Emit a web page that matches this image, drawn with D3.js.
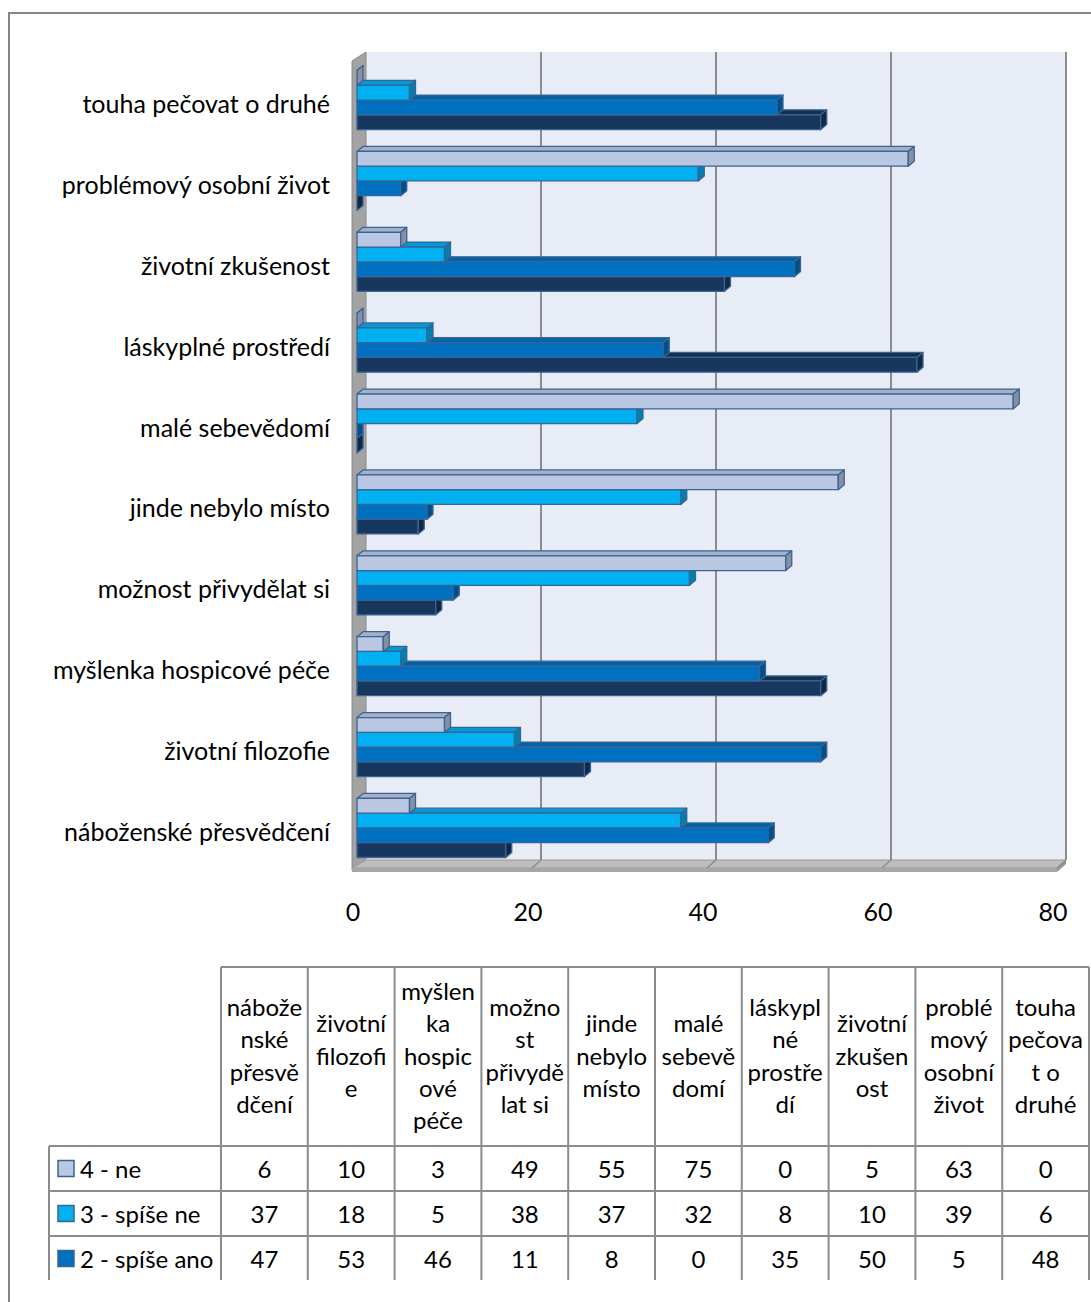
<!DOCTYPE html>
<html>
<head>
<meta charset="utf-8">
<script src="https://cdn.jsdelivr.net/npm/d3@7"></script>
<style>
  html, body { margin: 0; padding: 0; background: #ffffff; }
  svg { display: block; font-family: Lato, "Open Sans", sans-serif; }
</style>
</head>
<body>
<svg id="chart" width="1091" height="1302"></svg>
<script>
// Categories in table order (first = bottom of the bar chart)
const categories = [
  "náboženské přesvědčení",
  "životní filozofie",
  "myšlenka hospicové péče",
  "možnost přivydělat si",
  "jinde nebylo místo",
  "malé sebevědomí",
  "láskyplné prostředí",
  "životní zkušenost",
  "problémový osobní život",
  "touha pečovat o druhé"
];

// Wrapped column headings of the data table
const headerLines = [
  ["nábože", "nské", "přesvě", "dčení"],
  ["životní", "filozofi", "e"],
  ["myšlen", "ka", "hospic", "ové", "péče"],
  ["možno", "st", "přivydě", "lat si"],
  ["jinde", "nebylo", "místo"],
  ["malé", "sebevě", "domí"],
  ["láskypl", "né", "prostře", "dí"],
  ["životní", "zkušen", "ost"],
  ["problé", "mový", "osobní", "život"],
  ["touha", "pečova", "t o", "druhé"]
];

const seriesNames = ["4 - ne", "3 - spíše ne", "2 - spíše ano", "1 - ano"];
const valuesNe       = [6, 10, 3, 49, 55, 75, 0, 5, 63, 0];
const valuesSpiseNe  = [37, 18, 5, 38, 37, 32, 8, 10, 39, 6];
const valuesSpiseAno = [47, 53, 46, 11, 8, 0, 35, 50, 5, 48];
const valuesAno      = [17, 26, 53, 9, 7, 0, 64, 42, 0, 53];
const xTicks = [0, 20, 40, 60, 80];

// Rows shown in the data table
const tableRows = 3;

const seriesValues = [valuesNe, valuesSpiseNe, valuesSpiseAno, valuesAno];
const seriesColors = ["#B9C7E2", "#00B0F0", "#0070C0", "#17375E"];
const outline = "#3B6494";
const gridColor = "#8C8C8C";

const svg = d3.select("#chart");

// Outer frame (left and top edges)
svg.append("path")
  .attr("d", "M9,1302 V13 H1091")
  .attr("fill", "none")
  .attr("stroke", "#868686")
  .attr("stroke-width", 2);

// ---------- 3D bar chart ----------
const plotTop = 60, plotBottom = 868;
const WX = 9, WY = -8;     // wall depth offset
const DX = 6, DY = -5;     // bar depth offset

const x = d3.scaleLinear().domain([0, 80]).range([357, 1057]);
const y = d3.scaleBand()
  .domain(categories.slice().reverse())
  .range([plotTop, plotBottom])
  .paddingInner(0.27)
  .paddingOuter(0.13);
const ys = d3.scaleBand().domain(seriesNames).range([0, y.bandwidth()]);

const plot = svg.append("g");

// back wall
plot.append("rect")
  .attr("x", x(0) + WX).attr("y", plotTop + WY)
  .attr("width", x(80) - x(0)).attr("height", plotBottom - plotTop)
  .attr("fill", "#E8ECF6");

// side wall
plot.append("polygon")
  .attr("points", [[352, plotTop + 1], [x(0) + WX, plotTop + WY], [x(0) + WX, plotBottom + WY], [352, plotBottom + 2]].join(" "))
  .attr("fill", "#A3A3A3").attr("stroke", "#8A8A8A").attr("stroke-width", 1);

// floor
plot.append("polygon")
  .attr("points", [[352, plotBottom], [x(0) + WX, plotBottom + WY], [x(80) + WX, plotBottom + WY], [x(80), plotBottom]].join(" "))
  .attr("fill", "#BDBDBD").attr("stroke", "#9A9A9A").attr("stroke-width", 1);
plot.append("rect")
  .attr("x", 352).attr("y", plotBottom)
  .attr("width", x(80) - 352).attr("height", 4)
  .attr("fill", "#A6A6A6");
plot.append("polygon")
  .attr("points", [[x(80), plotBottom], [x(80) + WX, plotBottom + WY], [x(80) + WX, plotBottom + WY + 4], [x(80), plotBottom + 4]].join(" "))
  .attr("fill", "#969696");

// gridlines on back wall and floor
const gridVals = xTicks.filter(v => v > 0);
plot.selectAll("line.grid").data(gridVals).join("line")
  .attr("class", "grid")
  .attr("x1", d => x(d) + WX).attr("x2", d => x(d) + WX)
  .attr("y1", plotTop + WY).attr("y2", plotBottom + WY)
  .attr("stroke", gridColor).attr("stroke-width", 2);
plot.selectAll("line.floorgrid").data(gridVals).join("line")
  .attr("class", "floorgrid")
  .attr("x1", d => x(d) + WX).attr("x2", d => x(d))
  .attr("y1", plotBottom + WY).attr("y2", plotBottom)
  .attr("stroke", gridColor).attr("stroke-width", 1.5);

// bars: each drawn as front, top and end faces
const bars = plot.append("g");
categories.forEach((cat, ci) => {
  for (let si = seriesNames.length - 1; si >= 0; si--) {
    const v = seriesValues[si][ci];
    const y0 = y(cat) + ys(seriesNames[si]);
    const h = ys.bandwidth();
    const x0 = x(0), x1 = x(v);
    const base = d3.color(seriesColors[si]);
    const g = bars.append("g")
      .attr("stroke", outline).attr("stroke-width", 1.3).attr("stroke-linejoin", "round");
    g.append("polygon")
      .attr("points", [[x0, y0], [x0 + DX, y0 + DY], [x1 + DX, y0 + DY], [x1, y0]].join(" "))
      .attr("fill", base.darker(0.35));
    g.append("rect")
      .attr("x", x0).attr("y", y0)
      .attr("width", x1 - x0).attr("height", h)
      .attr("fill", base);
    g.append("polygon")
      .attr("points", [[x1, y0], [x1 + DX, y0 + DY], [x1 + DX, y0 + h + DY], [x1, y0 + h]].join(" "))
      .attr("fill", base.darker(0.9));
  }
});

// category labels
svg.append("g").selectAll("text").data(categories).join("text")
  .attr("x", 330)
  .attr("y", d => y(d) + y.bandwidth() / 2 + 13)
  .attr("text-anchor", "end")
  .attr("font-size", 25)
  .attr("fill", "#000")
  .text(d => d);

// value axis labels
svg.append("g").selectAll("text").data(xTicks).join("text")
  .attr("x", d => x(d) - 4)
  .attr("y", 921)
  .attr("text-anchor", "middle")
  .attr("font-size", 25)
  .attr("fill", "#000")
  .text(d => d);

// ---------- data table ----------
const tLeft = 49, colLeft = 221, tRight = 1089;
const headTop = 967, headBottom = 1146, rowH = 45, tBottom = 1280;
const tableFont = 24;
const col = d3.scaleBand().domain(categories).range([colLeft, tRight]);
const table = svg.append("g");
const lineStyle = sel => sel.attr("stroke", "#8C8C8C").attr("stroke-width", 2);

// horizontal rules
table.append("line").attr("x1", colLeft).attr("x2", tRight).attr("y1", headTop).attr("y2", headTop).call(lineStyle);
d3.range(tableRows).forEach(r => {
  const yy = headBottom + r * rowH;
  table.append("line").attr("x1", tLeft).attr("x2", tRight).attr("y1", yy).attr("y2", yy).call(lineStyle);
});
// vertical rules
table.append("line").attr("x1", tLeft).attr("x2", tLeft).attr("y1", headBottom).attr("y2", tBottom).call(lineStyle);
categories.forEach(c => {
  table.append("line").attr("x1", col(c)).attr("x2", col(c)).attr("y1", headTop).attr("y2", tBottom).call(lineStyle);
});
table.append("line").attr("x1", tRight).attr("x2", tRight).attr("y1", headTop).attr("y2", tBottom).call(lineStyle);

// column headings
const lineGap = 32.4;
categories.forEach((c, i) => {
  const lines = headerLines[i];
  const cy = (headTop + headBottom) / 2;
  const startY = cy - (lines.length - 1) * lineGap / 2;
  const t = table.append("text")
    .attr("text-anchor", "middle")
    .attr("font-size", tableFont)
    .attr("fill", "#000");
  lines.forEach((ln, k) => {
    t.append("tspan")
      .attr("x", col(c) + col.bandwidth() / 2)
      .attr("y", startY + k * lineGap + 8)
      .text(ln);
  });
});

// rows: legend key + values
d3.range(tableRows).forEach(r => {
  const cy = headBottom + r * rowH + rowH / 2;
  table.append("rect")
    .attr("x", 58).attr("y", cy - 8)
    .attr("width", 16).attr("height", 16)
    .attr("fill", seriesColors[r])
    .attr("stroke", outline).attr("stroke-width", 1.5);
  table.append("text")
    .attr("x", 80).attr("y", cy + 9)
    .attr("font-size", tableFont).attr("fill", "#000")
    .text(seriesNames[r]);
  table.append("g").selectAll("text").data(categories).join("text")
    .attr("x", c => col(c) + col.bandwidth() / 2)
    .attr("y", cy + 9)
    .attr("text-anchor", "middle")
    .attr("font-size", tableFont).attr("fill", "#000")
    .text((c, i) => seriesValues[r][i]);
});
</script>
</body>
</html>
